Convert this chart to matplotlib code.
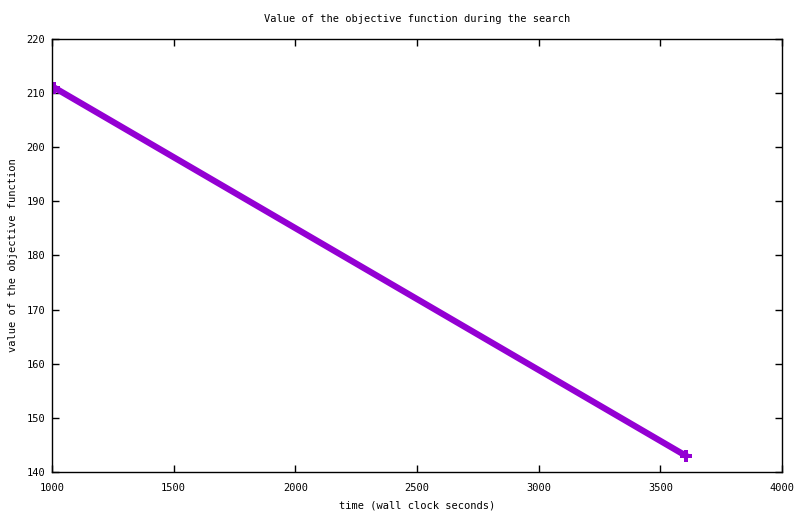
import matplotlib
matplotlib.use("Agg")
import matplotlib.pyplot as plt

# search progress: wall clock time vs objective value
times = [1010, 3605]
values = [211, 143]

plt.rcParams['font.family'] = 'DejaVu Sans Mono'
plt.rcParams['font.size'] = 7.5

fig = plt.figure(figsize=(8, 5.14), dpi=100)
ax = fig.add_axes([52/800, 1 - 472/514, 730/800, 433/514])

ax.plot(times, values, color='#9400D3', linewidth=4.5, marker='P',
        markersize=9, markeredgewidth=0)

ax.set_xlim(1000, 4000)
ax.set_ylim(140, 220)
ax.set_xticks(range(1000, 4001, 500))
ax.set_yticks(range(140, 221, 10))
ax.tick_params(direction='in', top=True, right=True, length=5, width=1)
ax.tick_params(axis='x', pad=8)
ax.tick_params(axis='y', pad=5)
for s in ax.spines.values():
    s.set_linewidth(1)

ax.set_title('Value of the objective function during the search',
             fontsize=7.5, pad=12)
ax.set_xlabel('time (wall clock seconds)', labelpad=5)
ax.set_ylabel('value of the objective function', labelpad=6)

fig.savefig('out.png', dpi=100)
